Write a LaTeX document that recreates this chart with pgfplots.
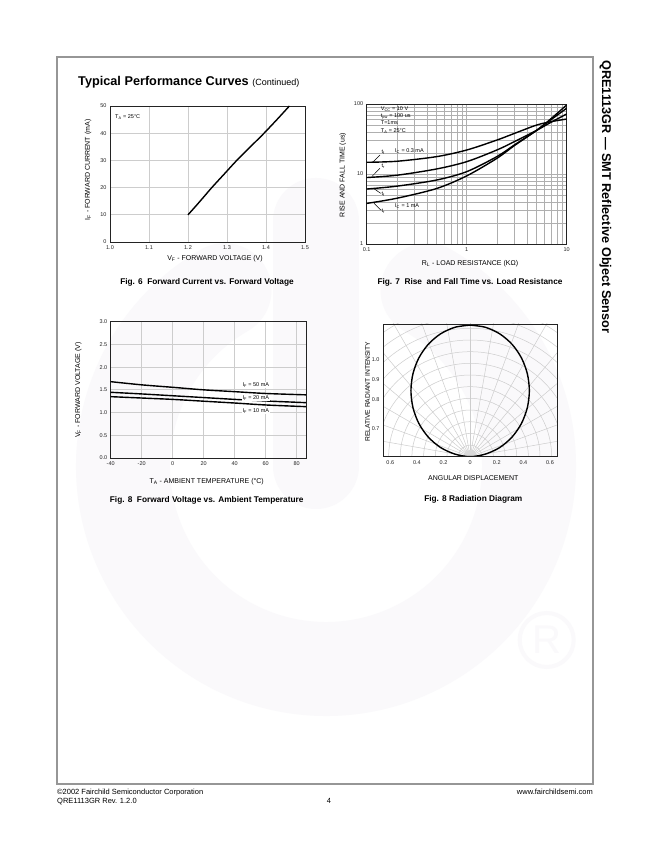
\documentclass[border=0pt]{standalone}
\usepackage{pgfplots}
\pgfplotsset{compat=1.18}
\usepackage{fontspec}
\setmainfont{Liberation Sans}

\definecolor{wm}{RGB}{250,249,251}
\definecolor{framec}{RGB}{150,150,150}
\definecolor{gridc}{RGB}{205,205,205}
\definecolor{gridd}{RGB}{175,175,175}
\definecolor{inkc}{RGB}{35,35,35}

\newcommand{\fs}[1]{\fontsize{#1}{#1}\selectfont}

\pgfplotsset{
  sheet/.style={
    scale only axis, anchor=south west,
    axis line style={draw=inkc, line width=0.9pt},
    major tick length=0pt, minor tick length=0pt,
    tick label style={font=\fs{5.5}, text=inkc},
    /pgf/number format/assume math mode=true,
    major grid style={draw=gridc, line width=0.7pt},
    minor grid style={draw=gridc, line width=0.5pt},
  },
  curve/.style={black, line width=1.4pt, smooth, no markers},
}

\begin{document}
\begin{tikzpicture}
\useasboundingbox (0pt,0pt) rectangle (650pt,841pt);
\fill[white] (0pt,0pt) rectangle (650pt,841pt);

\begin{scope}[x=1pt,y=1pt]
% faint logo watermark
\draw[wm, line width=94pt, line cap=round] (326,375) ++(120:203) arc[start angle=120, end angle=420, radius=203];
\draw[wm, line width=86pt, line cap=round] (316,375) -- (316,620);
\draw[wm, line width=4pt] (546.7,201) circle[radius=27];
\node[wm, inner sep=0] at (546.7,201) {\fs{40}R};

% page frame and running text
\draw[framec, line width=1.1pt] (57,57) rectangle (593,784);
\node[anchor=base west, inner sep=0] at (78,755.5) {\fs{12.7}\bfseries Typical Performance Curves \fs{9}\mdseries(Continued)};
\node[rotate=-90, anchor=base west, inner sep=0] at (602,781) {\fs{12.7}\bfseries QRE1113GR — SMT Reflective Object Sensor};
\node[anchor=base west, inner sep=0] at (57,46.3) {\fs{7.5}©2002 Fairchild Semiconductor Corporation};
\node[anchor=base west, inner sep=0] at (57,37.3) {\fs{7.5}QRE1113GR Rev. 1.2.0};
\node[anchor=base, inner sep=0] at (329,37.3) {\fs{7.5}4};
\node[anchor=base east, inner sep=0] at (593,46.3) {\fs{7.5}www.fairchildsemi.com};
\end{scope}

% Fig. 6
\begin{axis}[sheet, at={(110pt,599pt)}, width=195pt, height=136pt,
  xmin=1.0, xmax=1.5, ymin=0, ymax=50,
  xtick={1.0,1.1,1.2,1.3,1.4,1.5}, xticklabels={1.0,1.1,1.2,1.3,1.4,1.5},
  ytick={0,10,20,30,40,50}, grid=major]
\addplot[curve] coordinates {
(1.2,10) (1.22,13.2) (1.24,16.5) (1.261,20) (1.293,25) (1.325,30) (1.36,35) (1.395,40) (1.428,45) (1.46,50)
};
\end{axis}

% Fig. 7
\begin{loglogaxis}[sheet, at={(366.7pt,597pt)}, width=200pt, height=140pt,
  xmin=0.1, xmax=10, ymin=1, ymax=100,
  xtick={0.1,1,10}, xticklabels={0.1,1,10},
  ytick={1,10,100}, yticklabels={1,10,100},
  minor xtick={0.2,0.3,0.4,0.5,0.6,0.7,0.8,0.9,2,3,4,5,6,7,8,9},
  minor ytick={2,3,4,5,6,7,8,9,20,30,40,50,60,70,80,90},
  grid=both,
  major grid style={draw=gridd, line width=0.7pt},
  minor grid style={draw=gridd, line width=0.5pt}]
\addplot[curve] coordinates {
(0.1,14.7) (0.2,15.2) (0.5,17.7) (1,22) (2,30.5) (3,38) (5,50) (7,56) (10,61)
};
\addplot[curve] coordinates {
(0.1,8.9) (0.2,9.6) (0.5,11.8) (1,15) (2,22) (3,29) (5,42) (7,55) (10,72)
};
\addplot[curve] coordinates {
(0.1,6.1) (0.2,6.7) (0.5,8.2) (1,10.8) (2,17.7) (3,26) (5,42) (7,60) (10,87)
};
\addplot[curve] coordinates {
(0.1,3.8) (0.2,4.5) (0.5,6.2) (1,9.4) (2,16.7) (3,25.5) (5,42) (7,62) (10,97)
};
\end{loglogaxis}

% Fig. 8 forward voltage
\begin{axis}[sheet, at={(110.7pt,383pt)}, width=195.3pt, height=136.3pt,
  xmin=-40, xmax=86, ymin=0, ymax=3,
  xtick={-40,-20,0,20,40,60,80}, xticklabels={-40,-20,0,20,40,60,80},
  ytick={0,0.5,1,1.5,2,2.5,3}, yticklabels={0.0,0.5,1.0,1.5,2.0,2.5,3.0},
  grid=major]
\addplot[curve] coordinates {
(-40,1.68) (-20,1.61) (0,1.556) (20,1.50) (40,1.46) (60,1.42) (86,1.39)
};
\addplot[curve] coordinates {
(-40,1.446) (-20,1.41) (0,1.37) (20,1.33) (40,1.29) (60,1.255) (86,1.218)
};
\addplot[curve] coordinates {
(-40,1.35) (-20,1.32) (0,1.29) (20,1.25) (40,1.21) (60,1.167) (86,1.13)
};
\end{axis}

% Fig. 8 radiation diagram
\begin{axis}[sheet, at={(383pt,384.3pt)}, width=174.3pt, height=132.7pt,
  xmin=-0.655, xmax=0.655, ymin=0, ymax=0.995,
  xtick={-0.6,-0.4,-0.2,0,0.2,0.4,0.6}, xticklabels={0.6,0.4,0.2,0,0.2,0.4,0.6},
  ytick={0.2125,0.43,0.575,0.725}, yticklabels={0.7,0.8,0.9,1.0},
  axis on top]
\begin{scope}
\clip (rel axis cs:0,0) rectangle (rel axis cs:1,1);
\pgfplotsinvokeforeach{1,...,14}{
  \draw[gridc, line width=0.5pt] (axis cs:0,0) circle [x radius={0.0875*#1}, y radius={0.0875*#1}];
}
\pgfplotsinvokeforeach{10,20,...,170}{
  \draw[gridc, line width=0.5pt] (axis cs:0,0) -- (axis cs:{1.5*cos(#1)},{1.5*sin(#1)});
}
\fill[black!15] (axis cs:0,0) circle [x radius=0.05, y radius=0.05];
\end{scope}
\addplot[curve] coordinates {
(0,0.987) (0.1152,0.9702) (0.2225,0.9211) (0.3147,0.8429) (0.3854,0.741) (0.4298,0.6223) (0.445,0.495)
(0.4298,0.3677) (0.3854,0.249) (0.3147,0.1471) (0.2225,0.0689) (0.1152,0.0197) (0,0)
(-0.1152,0.0197) (-0.2225,0.0689) (-0.3147,0.1471) (-0.3854,0.249) (-0.4298,0.3677) (-0.445,0.495)
(-0.4298,0.6223) (-0.3854,0.741) (-0.3147,0.8429) (-0.2225,0.9211) (-0.1152,0.9702) (0,0.987)
};
\end{axis}

\begin{scope}[x=1pt,y=1pt]
% Fig. 6 texts
\node[anchor=west, inner sep=0] at (115,724) {\fs{5.5}T\textsubscript{A} = 25°C};
\node[inner sep=0] at (215,582) {\fs{7}V\textsubscript{F} - FORWARD VOLTAGE (V)};
\node[rotate=90, inner sep=0] at (88,671) {\fs{7}I\textsubscript{F} - FORWARD CURRENT (mA)};
\node[inner sep=0] at (207,559) {\fs{8.3}\bfseries Fig. 6\ \ Forward Current vs. Forward Voltage};
% Fig. 7 texts
\begin{scope}[every node/.style={anchor=west, inner sep=0, font=\fs{5.5}}]
\node at (380.7,732) {V\textsubscript{CC} = 10 V};
\node at (380.7,725) {t\textsubscript{pw} = 100 us};
\node at (380.7,718) {T=1ms};
\node at (380.7,710.3) {T\textsubscript{A} = 25°C};
\node at (395,690.3) {I\textsubscript{C} = 0.3 mA};
\node at (395,635) {I\textsubscript{C} = 1 mA};
\node at (381.5,688.7) {t\textsubscript{f}};
\node at (381.5,675) {t\textsubscript{r}};
\node at (381.5,646.7) {t\textsubscript{f}};
\node at (381.5,629.3) {t\textsubscript{r}};
\end{scope}
\draw[black, line width=0.5pt] (373.3,679.3) -- (380,686);
\draw[black, line width=0.5pt] (371.7,664.3) -- (380,672.7);
\draw[black, line width=0.5pt] (373.3,652.7) -- (380.7,647.7);
\draw[black, line width=0.5pt] (374,637.7) -- (380.7,631);
\node[inner sep=0] at (470,577.7) {\fs{7}R\textsubscript{L} - LOAD RESISTANCE (KΩ)};
\node[rotate=90, inner sep=0] at (342.7,666) {\fs{7}RISE AND FALL TIME (us)};
\node[inner sep=0] at (470,558.3) {\fs{8.3}\bfseries Fig. 7\ \ Rise\ \ and Fall Time vs. Load Resistance};
% Fig. 8 texts
\begin{scope}[every node/.style={anchor=west, inner sep=0.6pt, fill=white, font=\fs{5.5}}]
\node at (241.7,456) {I\textsubscript{F} = 50 mA};
\node at (241.7,443.3) {I\textsubscript{F} = 20 mA};
\node at (241.7,430.3) {I\textsubscript{F} = 10 mA};
\end{scope}
\node[inner sep=0] at (206.7,359.3) {\fs{7}T\textsubscript{A} - AMBIENT TEMPERATURE (°C)};
\node[rotate=90, inner sep=0] at (78.3,451) {\fs{7}V\textsubscript{F} - FORWARD VOLTAGE (V)};
\node[inner sep=0] at (206.7,341) {\fs{8.3}\bfseries Fig. 8\ \ Forward Voltage vs. Ambient Temperature};
% radiation texts
\node[inner sep=0] at (473.3,362.7) {\fs{7}ANGULAR DISPLACEMENT};
\node[rotate=90, inner sep=0] at (367.5,449.3) {\fs{6.7}RELATIVE RADIANT INTENSITY};
\node[inner sep=0] at (473.3,341.7) {\fs{8.3}\bfseries Fig. 8 Radiation Diagram};
\end{scope}

\end{tikzpicture}
\end{document}
